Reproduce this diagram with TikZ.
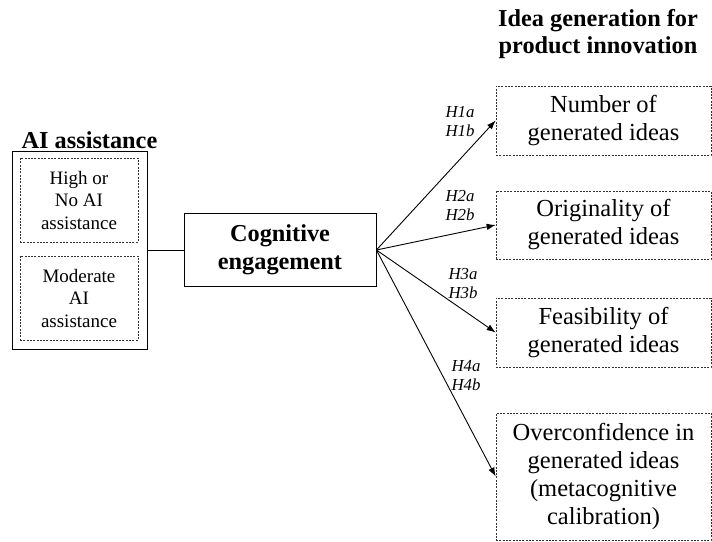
\documentclass[tikz,border=0pt]{standalone}
\usepackage{fontspec}
\setmainfont{Liberation Serif}
\usetikzlibrary{arrows.meta, positioning}

\tikzset{
    dotbox/.style={draw=black!80, line width=0.7pt, dash pattern=on 2pt off 1.3pt, align=center, inner sep=0pt},
    outcome/.style={dotbox, minimum width=215pt, font=\fontsize{24.5}{28}\selectfont},
    level/.style={dotbox, minimum width=118pt, minimum height=84pt, font=\fontsize{19}{22.5}\selectfont},
    hyp/.style={align=center, inner sep=0pt, font=\fontsize{16.8}{19}\selectfont\itshape},
    arr/.style={-{Latex[length=9pt, width=6.5pt]}, line width=0.9pt}
}

\begin{document}
\begin{tikzpicture}[x=1pt, y=-1pt]
    \useasboundingbox (0,0) rectangle (712,541);

    % Titles
    \node[anchor=base, inner sep=0pt, font=\fontsize{24.3}{27}\selectfont\bfseries] (aititle) at (89.5, 148) {AI assistance};
    \node[align=center, inner sep=0pt, font=\fontsize{24.3}{27}\selectfont\bfseries] (ideatitle) at (598, 34) {Idea generation for\\product innovation};

    % AI assistance conditions
    \node[draw, line width=0.8pt, minimum width=135pt, minimum height=198pt, inner sep=0pt] (aibox) at (79.5, 250) {};
    \node[level] (high) at (79, 200) {High or\\No AI\\assistance};
    \node[level] (moderate) at (79, 298) {Moderate\\AI\\assistance};

    % Mediator
    \node[draw, line width=0.8pt, minimum width=192pt, minimum height=73pt, inner sep=0pt, align=center,
          font=\fontsize{24.3}{28}\selectfont\bfseries] (cog) at (280, 250) {Cognitive\\engagement};

    % Outcomes
    \node[outcome, minimum height=69pt] (number) at (603.5, 120.5) {Number of\\generated ideas};
    \node[outcome, minimum height=68pt] (originality) at (603.5, 225) {Originality of\\generated ideas};
    \node[outcome, minimum height=69pt] (feasibility) at (603.5, 332.5) {Feasibility of\\generated ideas};
    \node[outcome, minimum height=127pt] (overconf) at (603.5, 476.5) {Overconfidence in\\generated ideas\\(metacognitive\\calibration)};

    % Connectors
    \draw[line width=0.9pt] (aibox.east) -- (cog.west);
    \draw[arr] (cog.east) -- (number.west);
    \draw[arr] (cog.east) -- (originality.west);
    \draw[arr] (cog.east) -- (feasibility.west);
    \draw[arr] (cog.east) -- (overconf.west);

    % Hypotheses
    \node[hyp] (h1) at (460, 121.5) {H1a\\H1b};
    \node[hyp] (h2) at (460, 206) {H2a\\H2b};
    \node[hyp] (h3) at (463, 284) {H3a\\H3b};
    \node[hyp] (h4) at (466, 376) {H4a\\H4b};
\end{tikzpicture}
\end{document}
